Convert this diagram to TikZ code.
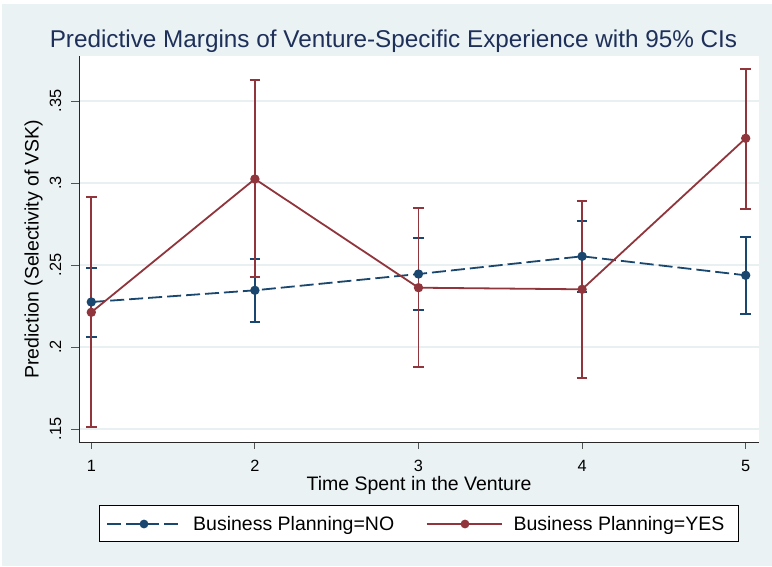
\documentclass[tikz,border=0pt]{standalone}
\usepackage{fontspec}
\setmainfont{Liberation Sans}
\definecolor{bgc}{RGB}{234,242,243}
\definecolor{gridc}{RGB}{232,240,242}
\definecolor{navyc}{RGB}{26,71,111}
\definecolor{maroonc}{RGB}{144,53,59}
\definecolor{titlec}{RGB}{30,48,90}
\definecolor{axisc}{RGB}{40,40,40}
\begin{document}
\begin{tikzpicture}[x=1pt,y=-1pt,
  gridline/.style={gridc,line width=1.6pt},
  axisline/.style={axisc,line width=1pt},
  tickline/.style={axisc!80,line width=1pt},
  ticklab/.style={font=\fontsize{16.3}{16.3}\selectfont,inner sep=0pt},
  axtitle/.style={font=\fontsize{19.5}{19.5}\selectfont,inner sep=0pt},
  legtext/.style={font=\fontsize{19.5}{19.5}\selectfont,inner sep=0pt,anchor=base west},
  bluebar/.style={navyc,line width=1.8pt},
  redbar/.style={maroonc,line width=1.8pt},
  blueline/.style={navyc,line width=1.8pt,dash pattern=on 14pt off 5pt},
  redline/.style={maroonc,line width=1.8pt},
  bluemark/.style={fill=navyc},
  redmark/.style={fill=maroonc}]
\useasboundingbox (0,0) rectangle (772,566);
\fill[white] (0,0) rectangle (772,566);
\fill[bgc] (2,4) rectangle (772,566);
\fill[white] (79,56) rectangle (759,442);
% grid and y ticks
\foreach \yy/\lab in {101/.35,183/.3,265/.25,347/.2,429/.15}{
  \draw[gridline] (79,\yy) -- (759,\yy);
  \draw[tickline] (71,\yy) -- (79,\yy);
  \node[ticklab,rotate=90] at (55.5,\yy) {\lab};
}
% x ticks
\foreach \xx/\lab in {91.3/1,254.9/2,418.5/3,582.1/4,745.7/5}{
  \draw[tickline] (\xx,442) -- (\xx,449);
  \node[ticklab,anchor=base] at (\xx,471) {\lab};
}
\draw[axisline] (79,56) -- (79,442) -- (759,442);
% titles
\node[font=\fontsize{24.3}{24.3}\selectfont,text=titlec,inner sep=0pt,anchor=base] (title) at (393.5,47.3) {Predictive Margins of Venture-Specific Experience with 95\% CIs};
\node[axtitle,anchor=base] (xt) at (419,490) {Time Spent in the Venture};
\node[axtitle,rotate=90,anchor=base] (yt) at (38.5,249) {Prediction (Selectivity of VSK)};
% data coordinates
\foreach \i/\xx/\p/\u/\l in {1/91.3/302/267.7/336.7,2/254.9/290.3/258.7/322,3/418.5/274/238/310.3,4/582.1/256.3/221/291.6,5/745.7/275.3/237/313.7}{
  \coordinate (bP\i) at (\xx,\p);
  \coordinate (bU\i) at (\xx,\u);
  \coordinate (bL\i) at (\xx,\l);
}
\foreach \i/\xx/\p/\u/\l in {1/91.3/312.3/197.3/427.3,2/254.9/179/80/277.3,3/418.5/287.7/208.3/366.7,4/582.1/289.3/201.3/377.7,5/745.7/138.3/69/208.7}{
  \coordinate (rP\i) at (\xx,\p);
  \coordinate (rU\i) at (\xx,\u);
  \coordinate (rL\i) at (\xx,\l);
}
% error bars
\foreach \i in {1,...,5}{
  \draw[bluebar] (bU\i) -- (bL\i);
  \draw[bluebar] ([xshift=-5.3pt]bU\i) -- ([xshift=5.3pt]bU\i);
  \draw[bluebar] ([xshift=-5.3pt]bL\i) -- ([xshift=5.3pt]bL\i);
}
\foreach \i in {1,...,5}{
  \draw[redbar] (rU\i) -- (rL\i);
  \draw[redbar] ([xshift=-5.3pt]rU\i) -- ([xshift=5.3pt]rU\i);
  \draw[redbar] ([xshift=-5.3pt]rL\i) -- ([xshift=5.3pt]rL\i);
}
% lines and markers
\draw[blueline] (bP1) -- (bP2) -- (bP3) -- (bP4) -- (bP5);
\foreach \i in {1,...,5}{\fill[bluemark] (bP\i) circle (4.7pt);}
\draw[redline] (rP1) -- (rP2) -- (rP3) -- (rP4) -- (rP5);
\foreach \i in {1,...,5}{\fill[redmark] (rP\i) circle (4.7pt);}
% legend
\draw[fill=white,draw=black,line width=0.9pt] (99,505) rectangle (738,541);
\coordinate (lb1) at (107,524); \coordinate (lb2) at (182,524); \coordinate (lbm) at (144,524);
\coordinate (lr1) at (426.7,524); \coordinate (lr2) at (501.7,524); \coordinate (lrm) at (465,524);
\draw[blueline] (lb1) -- (lb2);
\fill[bluemark] (lbm) circle (4.4pt);
\draw[redline] (lr1) -- (lr2);
\fill[redmark] (lrm) circle (4.4pt);
\node[legtext] (ln) at (193,530.7) {Business Planning=NO};
\node[legtext] (ly) at (513.3,530.7) {Business Planning=YES};
\end{tikzpicture}
\end{document}
